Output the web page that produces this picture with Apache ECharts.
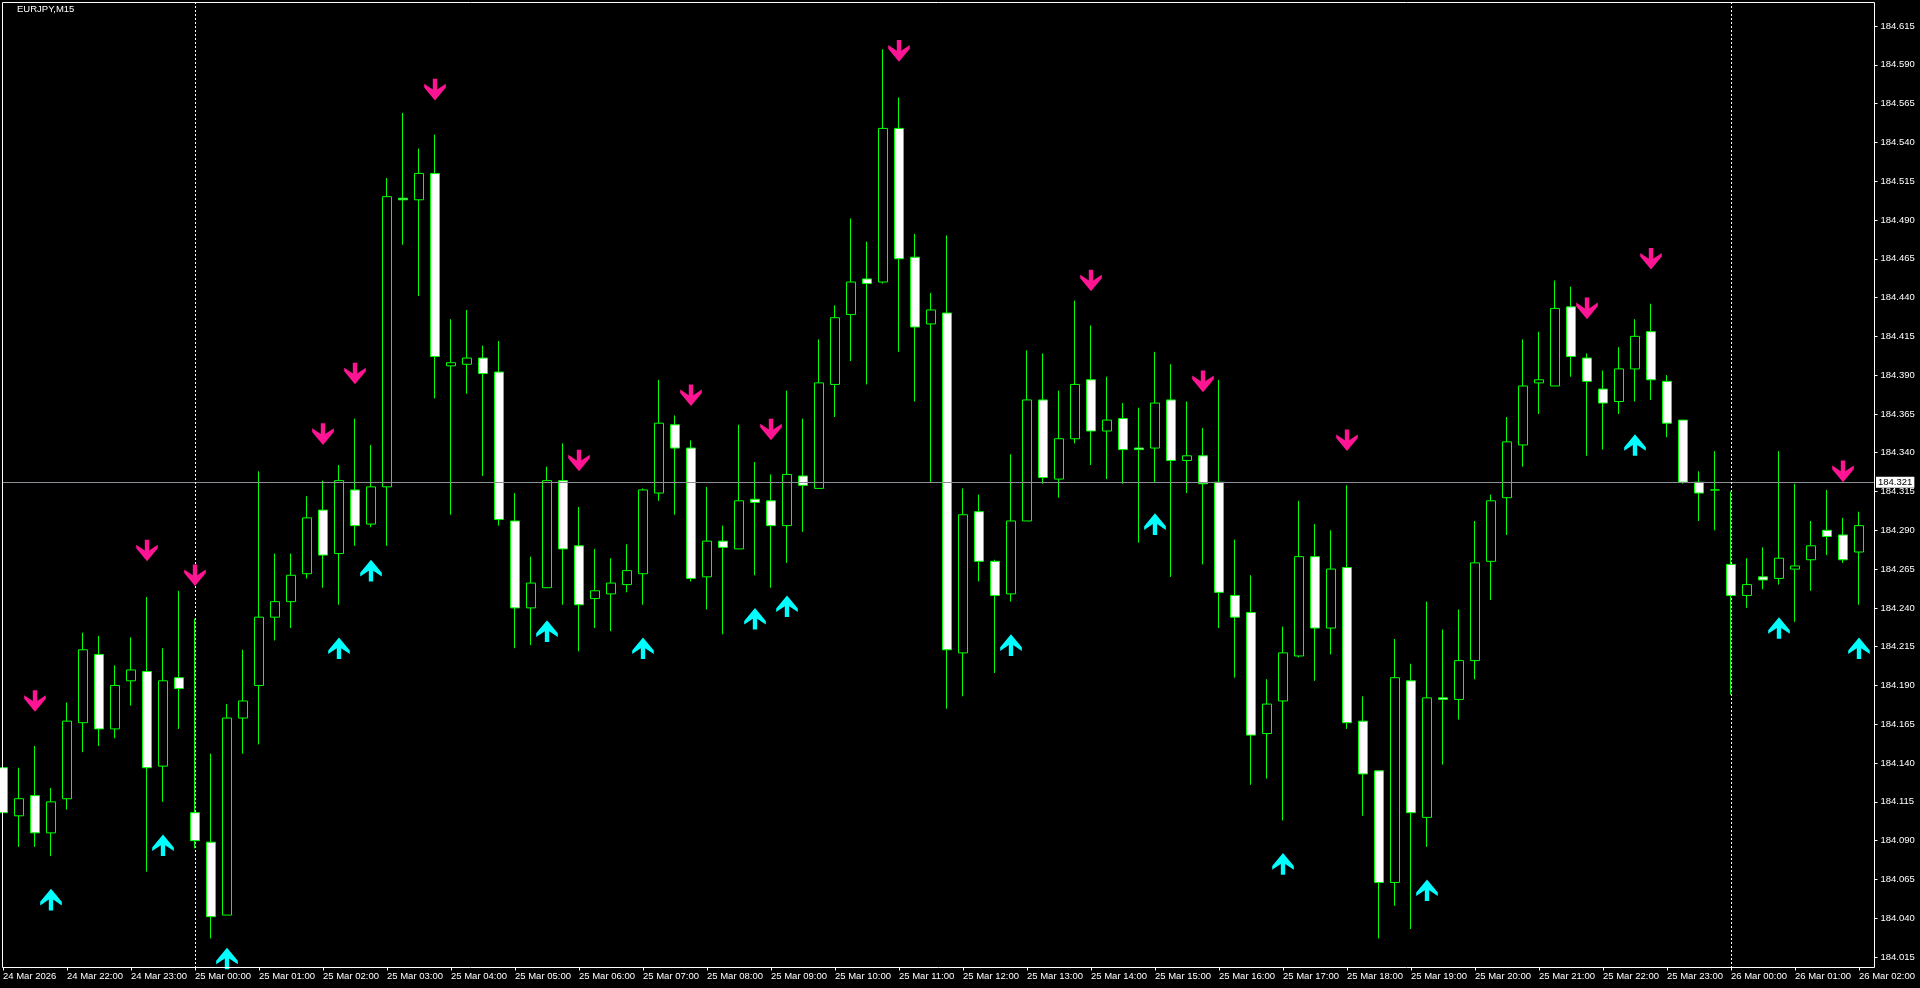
<!DOCTYPE html>
<html>
<head>
<meta charset="utf-8">
<script src="https://cdn.jsdelivr.net/npm/echarts@6.0.0/dist/echarts.min.js"></script>
<style>
html,body{margin:0;padding:0;background:#000;overflow:hidden;}
#c{width:1920px;height:988px;}
</style>
</head>
<body>
<div id="c"></div>
<script>
const symbolName = 'EURJPY,M15';

const hourStamps = ['24 Mar 21','24 Mar 22','24 Mar 23',
  '25 Mar 00','25 Mar 01','25 Mar 02','25 Mar 03','25 Mar 04','25 Mar 05','25 Mar 06','25 Mar 07',
  '25 Mar 08','25 Mar 09','25 Mar 10','25 Mar 11','25 Mar 12','25 Mar 13','25 Mar 14','25 Mar 15',
  '25 Mar 16','25 Mar 17','25 Mar 18','25 Mar 19','25 Mar 20','25 Mar 21','25 Mar 22','25 Mar 23',
  '26 Mar 00','26 Mar 01','26 Mar 02'];

const tickLabels = ['24 Mar 2026','24 Mar 22:00','24 Mar 23:00',
  '25 Mar 00:00','25 Mar 01:00','25 Mar 02:00','25 Mar 03:00','25 Mar 04:00','25 Mar 05:00','25 Mar 06:00','25 Mar 07:00',
  '25 Mar 08:00','25 Mar 09:00','25 Mar 10:00','25 Mar 11:00','25 Mar 12:00','25 Mar 13:00','25 Mar 14:00','25 Mar 15:00',
  '25 Mar 16:00','25 Mar 17:00','25 Mar 18:00','25 Mar 19:00','25 Mar 20:00','25 Mar 21:00','25 Mar 22:00','25 Mar 23:00',
  '26 Mar 00:00','26 Mar 01:00','26 Mar 02:00'];

const opens = [
  184.137,184.106,184.119,184.095,184.117,184.166,184.210,184.162,184.193,184.199,
  184.138,184.195,184.108,184.089,184.042,184.169,184.190,184.234,184.244,184.262,
  184.303,184.275,184.316,184.294,184.318,184.504,184.503,184.520,184.396,184.397,
  184.401,184.392,184.296,184.240,184.253,184.322,184.280,184.246,184.249,184.255,
  184.262,184.314,184.358,184.343,184.260,184.283,184.278,184.310,184.309,184.293,
  184.325,184.317,184.384,184.429,184.452,184.450,184.549,184.466,184.423,184.430,
  184.211,184.302,184.270,184.249,184.296,184.374,184.323,184.349,184.387,184.354,
  184.362,184.343,184.343,184.374,184.335,184.338,184.321,184.248,184.237,184.159,
  184.180,184.209,184.273,184.227,184.266,184.167,184.135,184.063,184.193,184.105,
  184.182,184.181,184.206,184.270,184.311,184.345,184.385,184.383,184.434,184.401,
  184.381,184.373,184.394,184.418,184.386,184.361,184.321,184.316,184.268,184.248,
  184.260,184.259,184.265,184.271,184.290,184.287,184.276];

const closes = [
  184.108,184.117,184.095,184.115,184.167,184.213,184.162,184.190,184.200,184.137,
  184.193,184.188,184.090,184.041,184.169,184.180,184.234,184.244,184.261,184.298,
  184.274,184.322,184.293,184.318,184.505,184.503,184.520,184.402,184.398,184.401,
  184.391,184.297,184.240,184.256,184.322,184.278,184.242,184.251,184.256,184.264,
  184.316,184.359,184.343,184.259,184.283,184.279,184.309,184.308,184.293,184.326,
  184.319,184.385,184.427,184.450,184.449,184.549,184.465,184.421,184.432,184.213,
  184.300,184.270,184.248,184.296,184.374,184.324,184.349,184.384,184.354,184.361,
  184.342,184.342,184.372,184.335,184.338,184.320,184.250,184.234,184.158,184.178,
  184.211,184.273,184.227,184.265,184.166,184.133,184.063,184.195,184.108,184.182,
  184.181,184.206,184.269,184.309,184.347,184.383,184.387,184.433,184.402,184.386,
  184.372,184.394,184.415,184.387,184.359,184.321,184.314,184.316,184.248,184.255,
  184.258,184.272,184.267,184.280,184.286,184.271,184.293];

const lows = [
  184.092,184.086,184.086,184.080,184.110,184.147,184.151,184.156,184.177,184.070,
  184.115,184.162,184.085,184.027,184.042,184.146,184.152,184.219,184.227,184.259,
  184.253,184.242,184.280,184.292,184.280,184.474,184.441,184.375,184.300,184.378,
  184.325,184.293,184.214,184.216,184.253,184.242,184.212,184.227,184.225,184.250,
  184.242,184.309,184.300,184.257,184.239,184.223,184.278,184.261,184.253,184.269,
  184.289,184.317,184.363,184.399,184.384,184.449,184.405,184.373,184.321,184.175,
  184.183,184.257,184.198,184.244,184.296,184.320,184.311,184.346,184.332,184.323,
  184.320,184.282,184.321,184.260,184.314,184.268,184.227,184.195,184.126,184.130,
  184.103,184.208,184.193,184.210,184.162,184.106,184.027,184.048,184.033,184.086,
  184.139,184.168,184.194,184.245,184.287,184.331,184.365,184.383,184.389,184.338,
  184.342,184.365,184.373,184.374,184.350,184.320,184.296,184.290,184.184,184.240,
  184.252,184.255,184.231,184.251,184.274,184.269,184.242];

const highs = [
  184.158,184.137,184.151,184.124,184.179,184.224,184.222,184.203,184.221,184.247,
  184.214,184.251,184.233,184.146,184.178,184.213,184.328,184.275,184.275,184.312,
  184.322,184.332,184.362,184.345,184.517,184.559,184.536,184.545,184.426,184.432,
  184.409,184.412,184.314,184.273,184.331,184.346,184.305,184.278,184.272,184.281,
  184.317,184.387,184.364,184.348,184.318,184.293,184.358,184.334,184.326,184.380,
  184.362,184.413,184.435,184.491,184.476,184.600,184.569,184.481,184.443,184.480,
  184.317,184.313,184.271,184.339,184.406,184.404,184.380,184.438,184.422,184.389,
  184.372,184.369,184.405,184.397,184.373,184.356,184.387,184.284,184.261,184.194,
  184.228,184.309,184.294,184.290,184.319,184.183,184.135,184.220,184.204,184.244,
  184.226,184.239,184.296,184.313,184.363,184.413,184.418,184.451,184.447,184.404,
  184.393,184.408,184.426,184.436,184.390,184.361,184.328,184.341,184.315,184.272,
  184.279,184.341,184.320,184.296,184.316,184.298,184.302];

const downIdx = [2,9,12,20,22,27,36,43,48,56,68,75,84,99,103,115];
const downVal = [184.180,184.277,184.261,184.352,184.391,184.574,184.335,184.377,184.355,184.599,184.451,184.386,184.348,184.433,184.465,184.328];
const upIdx = [3,10,14,21,23,34,40,47,49,63,72,80,89,102,111,116];
const upVal = [184.052,184.087,184.014,184.214,184.264,184.225,184.214,184.233,184.241,184.216,184.294,184.075,184.058,184.345,184.227,184.214];

const yTicks = [184.015,184.040,184.065,184.090,184.115,184.140,184.165,184.190,184.215,184.240,
  184.265,184.290,184.315,184.340,184.365,184.390,184.415,184.440,184.465,184.490,
  184.515,184.540,184.565,184.590,184.615];

const priceLine = 184.321;
const daySeparators = [12, 108];

// ---- build tables ----
const categories = [];
hourStamps.forEach(h => ['00','15','30','45'].forEach(m => categories.push(h + ':' + m)));
categories.length = opens.length;

const candleData = opens.map((o, i) => [o, closes[i], lows[i], highs[i]]);
const downData = downIdx.map((k, i) => [k, downVal[i]]);
const upData = upIdx.map((k, i) => [k, upVal[i]]);

// arrow outline (pointing down), pixel offsets from arrow centre
const ARROW = [[-2.2,-10.8],[2.2,-10.8],[2.2,0],[10.8,-5.8],[10.8,-2.2],[0,10.8],[-10.8,-2.2],[-10.8,-5.8],[-2.2,0]];
function arrowRenderer(dir, color) {
  return function (params, api) {
    const p = api.coord([api.value(0), api.value(1)]);
    const pts = ARROW.map(([x, y]) => [p[0] + x, p[1] + y * dir]);
    return { type: 'polygon', shape: { points: pts }, style: { fill: color } };
  };
}

const FONT = 'Liberation Sans';
const chart = echarts.init(document.getElementById('c'), null, { renderer: 'canvas' });
chart.setOption({
  backgroundColor: '#000',
  animation: false,
  title: {
    text: symbolName, left: 17, top: 4, padding: 0,
    textStyle: { color: '#fff', fontSize: 9.5, fontWeight: 'normal', fontFamily: FONT }
  },
  grid: { left: 3, right: 61, top: 26, bottom: 31, outerBoundsMode: 'none', containLabel: false },
  xAxis: {
    type: 'category', data: categories, boundaryGap: false, offset: 10.5,
    axisLine: { show: false },
    axisTick: { show: true, interval: 3, length: 3, lineStyle: { color: '#fff', width: 1 } },
    axisLabel: {
      interval: 3, color: '#fff', fontSize: 9.5, fontFamily: FONT, align: 'left', margin: 4,
      formatter: (v, i) => tickLabels[Math.round(i / 4)]
    },
    splitLine: { show: false }
  },
  yAxis: {
    type: 'value', position: 'right', min: 184.015, max: 184.615, scale: true, offset: 15.5,
    axisLine: { show: false },
    axisTick: { show: true, length: 3, lineStyle: { color: '#fff' }, customValues: yTicks },
    axisLabel: { color: '#fff', fontSize: 9.5, fontFamily: FONT, margin: 6, customValues: yTicks,
      formatter: v => v.toFixed(3) },
    splitLine: { show: false }
  },
  graphic: [{
    type: 'rect', z: 100, silent: true,
    shape: { x: 2.5, y: 2.5, width: 1872, height: 965 },
    style: { fill: null, stroke: '#fff', lineWidth: 1 }
  }],
  series: [
    {
      type: 'candlestick', data: candleData, barWidth: 9.5, clip: false, silent: true,
      itemStyle: { color: '#000', color0: '#fff', borderColor: '#00ff00', borderColor0: '#00ff00',
        borderColorDoji: '#00ff00', borderWidth: 1 },
      markLine: {
        silent: true, symbol: ['none', 'none'], animation: false,
        data: [
          [{ x: 2, yAxis: priceLine, lineStyle: { color: '#8a9096', width: 1, type: 'solid' },
             label: { show: true, position: 'end', formatter: priceLine.toFixed(3), color: '#000',
               backgroundColor: '#fff', fontSize: 9.5, fontFamily: FONT, padding: [1, 2, 0, 2], distance: 2 } },
           { x: 1874, yAxis: priceLine }],
          ...daySeparators.map(k => [
            { xAxis: categories[k], y: 2, lineStyle: { color: '#fff', width: 1, type: [2, 2] }, label: { show: false } },
            { xAxis: categories[k], y: 967 }
          ])
        ]
      }
    },
    {
      type: 'custom', name: 'sell', data: downData, clip: false, silent: true, z: 5,
      renderItem: arrowRenderer(1, '#ff1493')
    },
    {
      type: 'custom', name: 'buy', data: upData, clip: false, silent: true, z: 5,
      renderItem: arrowRenderer(-1, '#00ffff')
    }
  ]
});
</script>
</body>
</html>
